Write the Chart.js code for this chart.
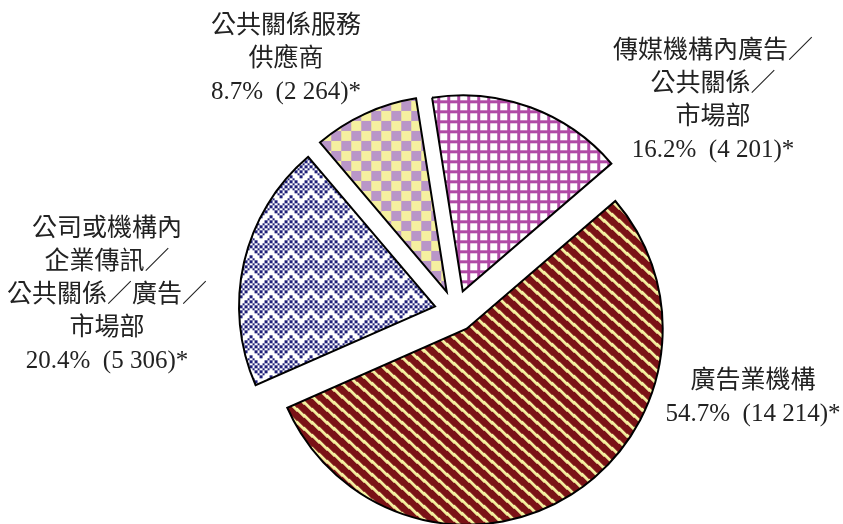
<!DOCTYPE html>
<html>
<head>
<meta charset="utf-8">
<script src="https://cdn.jsdelivr.net/npm/chart.js@4/dist/chart.umd.min.js"></script>
<style>
  html, body { margin: 0; padding: 0; background: #fff; }
  #chart { display: block; }
</style>
</head>
<body>
<canvas id="chart" width="843" height="524"></canvas>
<script>
// slices, clockwise from the top
const categories = ['傳媒機構內廣告／公共關係／市場部', '廣告業機構', '公司或機構內企業傳訊／公共關係／廣告／市場部', '公共關係服務供應商'];
const sharePct = [16.2, 54.7, 20.4, 8.7];
const headcount = ['4 201', '14 214', '5 306', '2 264'];
// how each category name is broken over lines in the labels
const nameLines = [
    ['傳媒機構內廣告／', '公共關係／', '市場部'],
    ['廣告業機構'],
    ['公司或機構內', '企業傳訊／', '公共關係／廣告／', '市場部'],
    ['公共關係服務', '供應商']
];

// label anchors (centre x, first line y)
const labelPos = [[713, 51], [753, 381], [107, 229], [286, 26]];
const LINE_H = 33;
const EXPLODE = 21;

const YELLOW = '#f5f0a0';

function tile(w, h, paint) {
    const c = document.createElement('canvas');
    c.width = w; c.height = h;
    paint(c.getContext('2d'), w, h);
    return document.getElementById('chart').getContext('2d').createPattern(c, 'repeat');
}

// small grid, magenta on white
const gridPattern = tile(10, 10, (g, w, h) => {
    g.fillStyle = '#fff'; g.fillRect(0, 0, w, h);
    g.fillStyle = '#b04aa6';
    g.fillRect(0, 0, w, 3);
    g.fillRect(0, 0, 3, h);
});

// wide diagonal stripes, dark red and yellow (falling to the right)
const stripePattern = tile(15, 13, (g, w, h) => {
    g.fillStyle = '#7a1216'; g.fillRect(0, 0, w, h);
    g.fillStyle = YELLOW;
    for (let y = 0; y < h; y++)
        for (let x = 0; x < w; x++) {
            const d = (((y - Math.floor(x * h / w)) % h) + h) % h;
            if (d < 4) g.fillRect(x, y, 1, 1);
        }
});

// zig zag, navy on white
const zigBits = [
    'X...X...',
    '...X.X..',
    '..X.X.X.',
    '.X.X.X.X',
    'X.X.X.X.',
    '.X.X.X.X',
    'X.X...X.',
    '.X.....X'
];
const zigPattern = tile(20, 20, (g, w, h) => {
    g.fillStyle = '#fff'; g.fillRect(0, 0, w, h);
    g.fillStyle = '#1f1f78';
    zigBits.forEach((row, r) => {
        [...row].forEach((ch, c) => {
            if (ch !== 'X') return;
            const x0 = Math.round(c * 2.5), x1 = Math.round((c + 1) * 2.5);
            const y0 = Math.round(r * 2.5), y1 = Math.round((r + 1) * 2.5);
            g.fillRect(x0, y0, x1 - x0, y1 - y0);
        });
    });
});

// large checkerboard, lilac and yellow
const checkPattern = tile(20, 20, (g, w, h) => {
    g.fillStyle = YELLOW; g.fillRect(0, 0, w, h);
    g.fillStyle = '#b996c8';
    g.fillRect(10, 0, 10, 10);
    g.fillRect(0, 10, 10, 10);
});

// exploded slices: shift every arc outward along its bisector
const ArcEl = Chart.ArcElement || Chart.registry.getElement('arc');
const baseDraw = ArcEl.prototype.draw;
ArcEl.prototype.draw = function (ctx) {
    const mid = (this.startAngle + this.endAngle) / 2;
    ctx.save();
    ctx.translate(Math.cos(mid) * EXPLODE, Math.sin(mid) * EXPLODE);
    baseDraw.call(this, ctx);
    ctx.restore();
};

const sliceLabels = {
    id: 'sliceLabels',
    afterDraw(chart) {
        const ctx = chart.ctx;
        ctx.save();
        ctx.fillStyle = '#222';
        ctx.textAlign = 'center';
        ctx.textBaseline = 'middle';
        ctx.font = '25px "Liberation Serif", "Noto Sans CJK TC", serif';
        nameLines.forEach((lines, i) => {
            const [cx, y0] = labelPos[i];
            const all = lines.concat([`${sharePct[i].toFixed(1)}%  (${headcount[i]})*`]);
            all.forEach((t, k) => ctx.fillText(t, cx, y0 + k * LINE_H));
        });
        ctx.restore();
    }
};

new Chart(document.getElementById('chart'), {
    type: 'pie',
    data: {
        labels: categories,
        datasets: [{
            data: sharePct,
            backgroundColor: [gridPattern, stripePattern, zigPattern, checkPattern],
            borderColor: '#000',
            borderWidth: 2,
            borderJoinStyle: 'miter'
        }]
    },
    options: {
        responsive: false,
        animation: false,
        rotation: -9,
        radius: 196,
        layout: { padding: { left: 68, right: 0, top: 98, bottom: 0 } },
        plugins: {
            legend: { display: false },
            tooltip: { enabled: false }
        }
    },
    plugins: [sliceLabels]
});
</script>
</body>
</html>
